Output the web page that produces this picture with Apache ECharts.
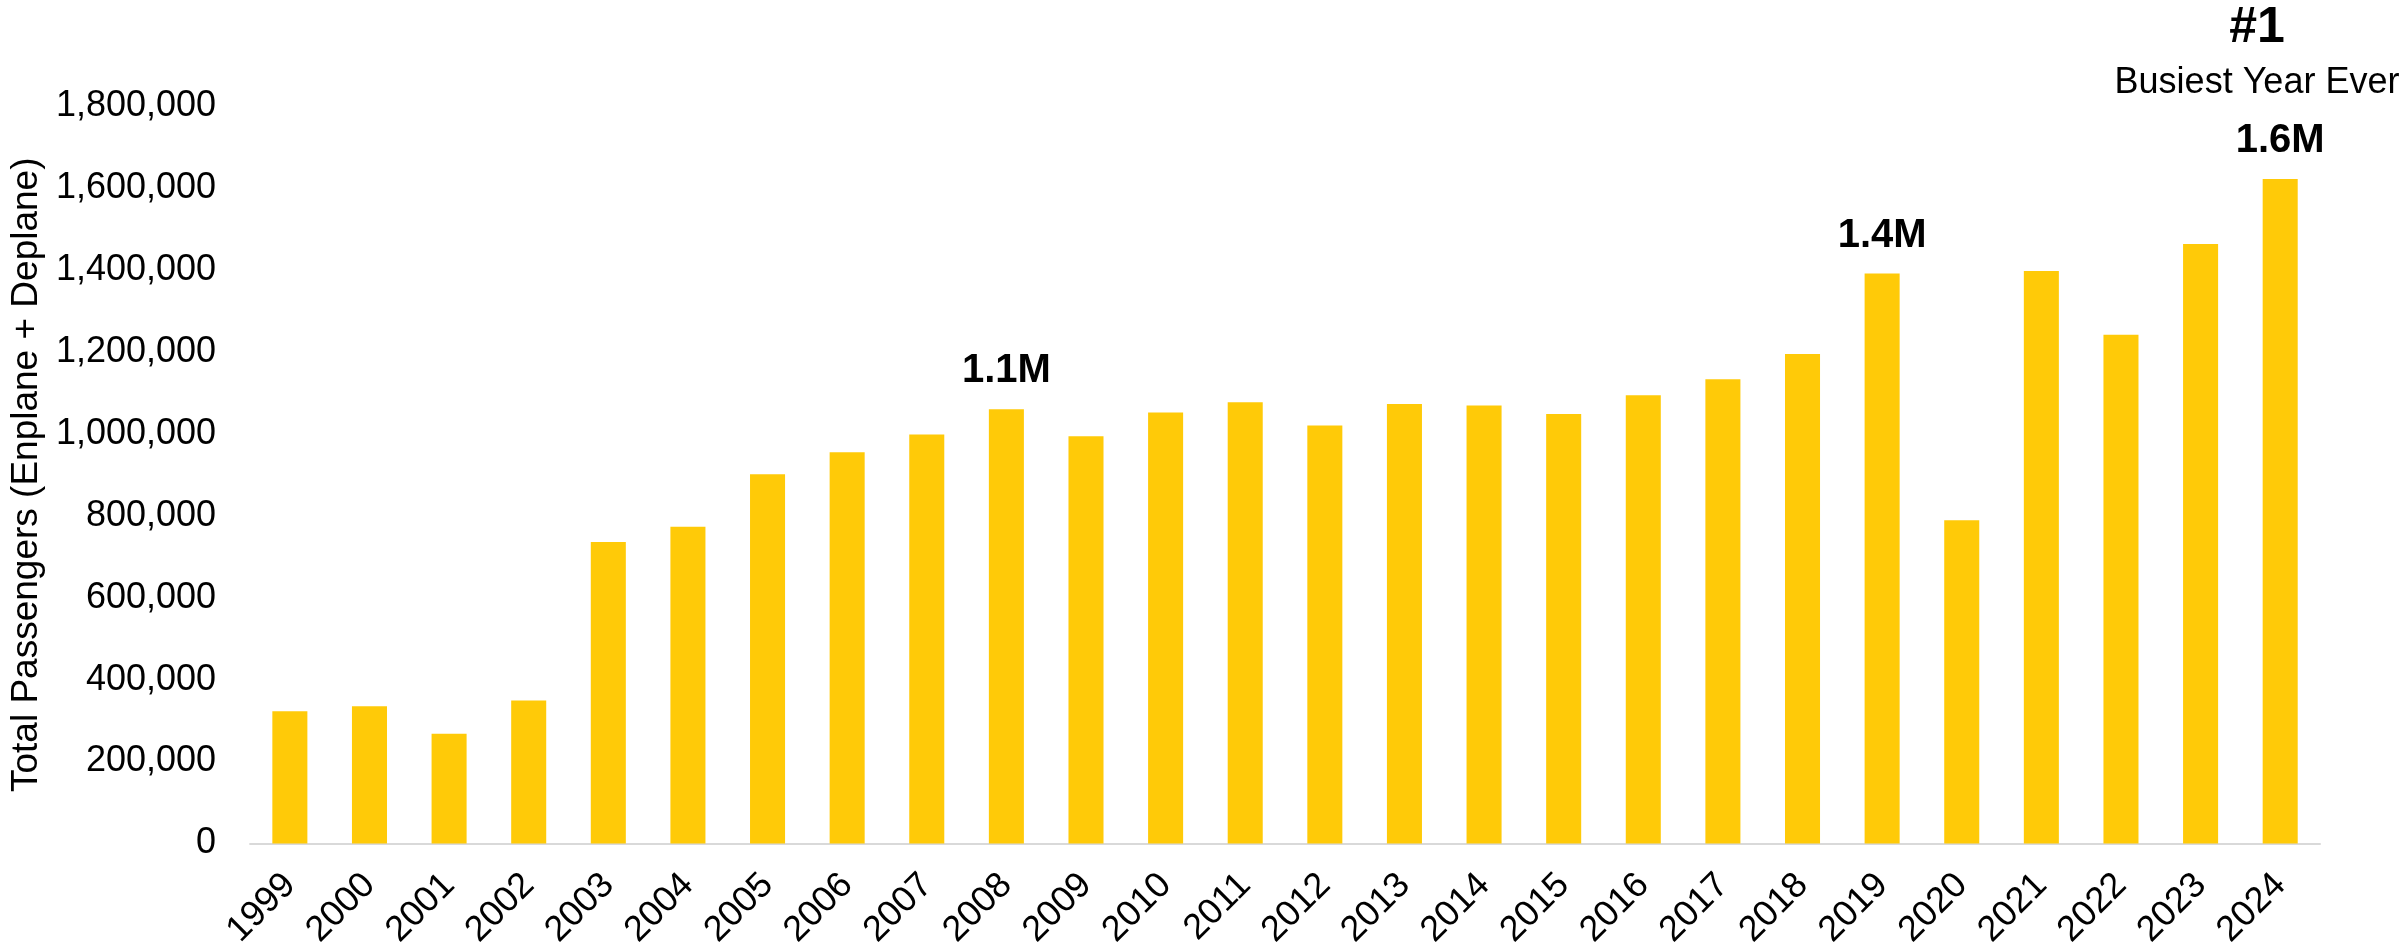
<!DOCTYPE html>
<html>
<head>
<meta charset="utf-8">
<script src="https://cdn.jsdelivr.net/npm/echarts@6/dist/echarts.min.js"></script>
<style>
html,body{margin:0;padding:0;background:#fff;}
#chart{width:2407px;height:951px;}
</style>
</head>
<body>
<div id="chart"></div>
<script>
var years = ['1999','2000','2001','2002','2003','2004','2005','2006','2007','2008','2009','2010','2011','2012','2013','2014','2015','2016','2017','2018','2019','2020','2021','2022','2023','2024'];
var passengers = [323000,335000,268000,349000,736000,773000,901000,955000,998000,1060000,994000,1052000,1077000,1020000,1073000,1069000,1048000,1094000,1133000,1195000,1391000,789000,1397000,1242000,1463000,1622000];
var calloutYears = ['2008','2019','2024'];
var calloutLabels = ['1.1M','1.4M','1.6M'];
var yTicks = [0,200000,400000,600000,800000,1000000,1200000,1400000,1600000,1800000];
var yAxisTitle = 'Total Passengers (Enplane + Deplane)';
var rankText = '#1';
var rankSubText = 'Busiest Year Ever';

var font = '"Liberation Sans", Arial, sans-serif';
var chart = echarts.init(document.getElementById('chart'), null, {renderer:'canvas'});

var seriesData = passengers.map(function(v, i){
  var idx = calloutYears.indexOf(years[i]);
  var item = {value: v};
  if (idx >= 0) {
    item.label = {show: true, formatter: calloutLabels[idx]};
  }
  return item;
});

chart.setOption({
  animation: false,
  backgroundColor: '#ffffff',
  grid: {left: 243, right: 87, top: 106, bottom: 107, containLabel: false},
  xAxis: {
    type: 'category',
    data: years,
    axisLine: {show: true, lineStyle: {color: '#d9d9d9', width: 2}},
    axisTick: {show: false},
    axisLabel: {rotate: 45, margin: 36, fontSize: 36, color: '#000', fontFamily: font, interval: 0}
  },
  yAxis: {
    type: 'value',
    min: yTicks[0],
    max: yTicks[yTicks.length-1],
    interval: yTicks[1] - yTicks[0],
    name: yAxisTitle,
    nameLocation: 'middle',
    nameGap: 205,
    nameTextStyle: {fontSize: 37, color: '#000', fontFamily: font},
    axisLine: {show: false},
    axisTick: {show: false},
    splitLine: {show: false},
    axisLabel: {
      fontSize: 36, color: '#000', fontFamily: font, margin: 34,
      formatter: function(v){ return v.toLocaleString('en-US'); }
    }
  },
  series: [{
    type: 'bar',
    data: seriesData,
    barWidth: '44%',
    itemStyle: {color: '#FFCA08'},
    label: {
      show: false,
      position: 'top',
      distance: 18,
      fontSize: 40,
      fontWeight: 'bold',
      color: '#000',
      fontFamily: font
    }
  }],
  graphic: [
    {type: 'text', x: 2257, y: 28, style: {text: rankText, fill: '#000', font: 'bold 50px ' + font, textAlign: 'center', textVerticalAlign: 'middle'}},
    {type: 'text', x: 2257, y: 83, style: {text: rankSubText, fill: '#000', font: '36px ' + font, textAlign: 'center', textVerticalAlign: 'middle'}}
  ]
});
</script>
</body>
</html>
